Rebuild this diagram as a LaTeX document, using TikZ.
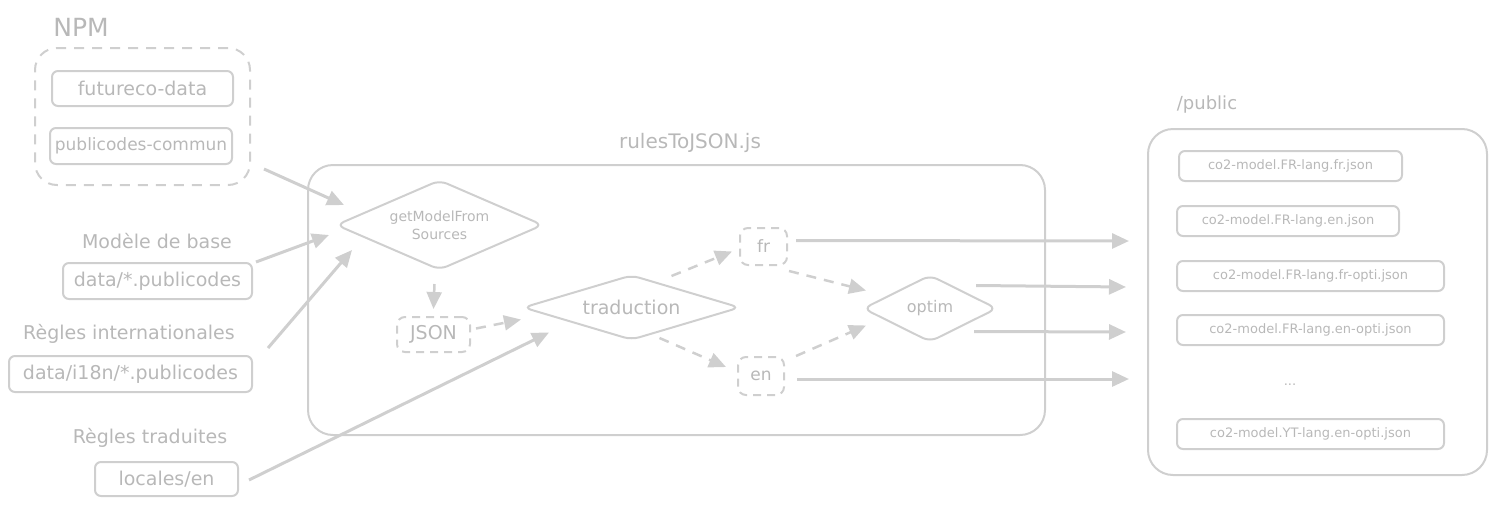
\documentclass[tikz,border=0pt]{standalone}
\usepackage{fontspec}
\setmainfont{DejaVu Sans}
\usetikzlibrary{shapes.geometric,arrows.meta,calc}
\definecolor{linec}{HTML}{CFCFCF}
\definecolor{textc}{HTML}{B8B8B8}
\newcommand{\fs}[1]{\fontsize{#1pt}{#1pt}\selectfont}
\tikzset{
  base/.style={draw=linec, line width=2pt, text=textc},
  srcbox/.style={base, rectangle, rounded corners=6pt, inner sep=0pt, font=\fs{19}},
  filebox/.style={base, rectangle, rounded corners=6pt, inner sep=0pt, minimum height=30pt, font=\fs{13}},
  dbox/.style={base, rectangle, rounded corners=8pt, inner sep=0pt, dash pattern=on 8pt off 6pt},
  dmd/.style={base, diamond, rounded corners=8pt, inner sep=0pt},
  lbl/.style={text=textc, inner sep=0pt},
  arr/.style={draw=linec, line width=3pt, -{Triangle[length=17pt,width=15pt]}},
  darr/.style={draw=linec, line width=2.5pt, dash pattern=on 10pt off 8pt, -{Triangle[length=17pt,width=15pt]}},
}
\begin{document}
\begin{tikzpicture}[x=1pt,y=-1pt]
\useasboundingbox (0,0) rectangle (1495,506);

% NPM group
\node[lbl, font=\fs{25}] (npmlbl) at (81,27) {NPM};
\node[base, rectangle, rounded corners=22pt, dash pattern=on 10pt off 8pt, minimum width=215pt, minimum height=137pt] (npm) at (142.5,116.5) {};
\node[srcbox, minimum width=181pt, minimum height=35pt] (fdata) at (142.5,88.5) {futureco-data};
\node[srcbox, minimum width=182pt, minimum height=36pt, font=\fs{17}] (pcom) at (141,146) {publicodes-commun};

% sources
\node[lbl, font=\fs{19}] (mbl) at (157,241) {Modèle de base};
\node[srcbox, minimum width=189pt, minimum height=36pt] (base) at (157.5,281) {data/*.publicodes};
\node[lbl, font=\fs{19}] (ril) at (129,334) {Règles internationales};
\node[srcbox, minimum width=243pt, minimum height=36pt] (i18n) at (130.5,374) {data/i18n/*.publicodes};
\node[lbl, font=\fs{19}] (rtl) at (150,438) {Règles traduites};
\node[srcbox, minimum width=143pt, minimum height=34pt] (loc) at (166.5,479) {locales/en};

% rulesToJSON
\node[lbl, font=\fs{20}] (rjl) at (690,143) {rulesToJSON.js};
\node[base, rectangle, rounded corners=25pt, minimum width=737pt, minimum height=270pt] (rules) at (676.5,300) {};

\node[dmd, aspect=2.3, minimum width=207pt, minimum height=90pt, font=\fs{14}, align=center] (gm) at (439.5,225) {getModelFrom\\[4pt]Sources};
\node[dbox, minimum width=73pt, minimum height=35pt, font=\fs{19}] (json) at (433.5,334.5) {JSON};
\node[dmd, aspect=3.34, minimum width=217pt, minimum height=65pt, font=\fs{19}] (trad) at (631.5,307.5) {traduction};
\node[dbox, minimum width=47pt, minimum height=37pt, font=\fs{17}] (fr) at (763.5,246.5) {fr};
\node[dbox, minimum width=46pt, minimum height=38pt, font=\fs{17}] (en) at (761,376) {en};
\node[dmd, aspect=2, minimum width=134pt, minimum height=67pt, font=\fs{16}] (optim) at (930,308.5) {optim};

% /public
\node[lbl, font=\fs{18}] (publbl) at (1207,105) {/public};
\node[base, rectangle, rounded corners=25pt, minimum width=339pt, minimum height=346pt] (pub) at (1317.5,302) {};
\node[filebox, minimum width=223pt] (f1) at (1290.5,166) {co2-model.FR-lang.fr.json};
\node[filebox, minimum width=222pt] (f2) at (1288,221) {co2-model.FR-lang.en.json};
\node[filebox, minimum width=267pt] (f3) at (1310.5,276) {co2-model.FR-lang.fr-opti.json};
\node[filebox, minimum width=267pt] (f4) at (1310.5,330) {co2-model.FR-lang.en-opti.json};
\node[lbl, font=\fs{13}] (dots) at (1290,385) {...};
\node[filebox, minimum width=267pt] (f6) at (1310.5,434) {co2-model.YT-lang.en-opti.json};

% inputs
\draw[arr] ([shift={(13,-17)}]npm.south east) -- ([shift={(9,-20)}]gm.west);
\draw[arr] ([shift={(3,-19)}]base.east) -- ([shift={(-6,10)}]gm.west);
\draw[arr] ([shift={(15,-26)}]i18n.east) -- ([shift={(17,25)}]gm.west);
\draw[arr] ([shift={(10,1)}]loc.east) -- ([shift={(27,25)}]trad.west);

% internal dashed
\draw[darr] ([shift={(-5,13)}]gm.south) -- ([shift={(0,-7)}]json.north);
\draw[darr] ([shift={(5,-6)}]json.east) -- ([shift={(-1,12)}]trad.west);
\draw[darr] ([shift={(40,2)}]trad.north) -- ([shift={(-7,5)}]fr.west);
\draw[darr] ([shift={(28,-3)}]trad.south) -- ([shift={(-11,-9)}]en.west);
\draw[darr] ([shift={(1,5)}]fr.south east) -- ([shift={(4,-18)}]optim.west);
\draw[darr] ([shift={(11,0)}]en.north east) -- ([shift={(4,17)}]optim.west);

% outputs
\draw[arr] ([shift={(8,-6)}]fr.east) -- ([shift={(-18,-61)}]pub.west);
\draw[arr] ([shift={(-22,-23)}]optim.east) -- ([shift={(-21,-15)}]pub.west);
\draw[arr] ([shift={(-24,23)}]optim.east) -- ([shift={(-21,30)}]pub.west);
\draw[arr] ([shift={(12,3)}]en.east) -- ([shift={(-18,77)}]pub.west);
\end{tikzpicture}
\end{document}
